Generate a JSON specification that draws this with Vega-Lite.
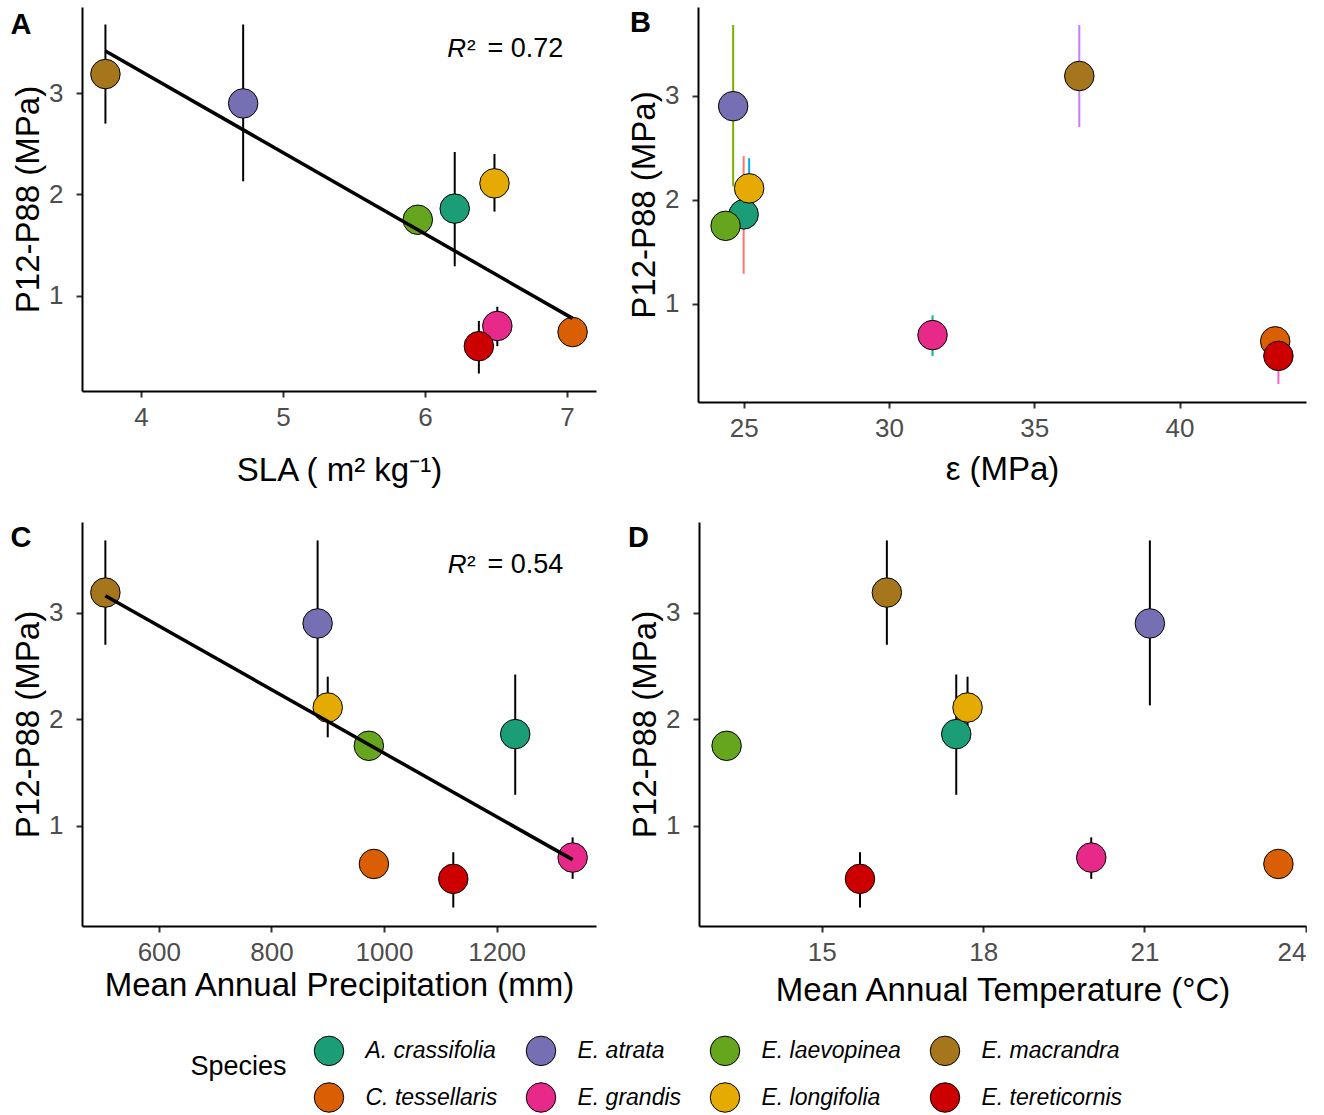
{
  "$schema": "https://vega.github.io/schema/vega-lite/v6.json",
  "background": "white",
  "padding": {"left": 10, "top": 7, "right": 0, "bottom": 0},
  "data": {"values": [
    {"Species": "A. crassifolia", "sla": 6.21, "eps": 25.00, "map": 1233, "mat": 17.50, "y": 1.86, "lo": 1.29, "hi": 2.42},
    {"Species": "C. tessellaris", "sla": 7.04, "eps": 43.29, "map": 982, "mat": 23.49, "y": 0.64, "lo": null, "hi": null},
    {"Species": "E. atrata", "sla": 4.72, "eps": 24.64, "map": 882, "mat": 21.10, "y": 2.90, "lo": 2.13, "hi": 3.68},
    {"Species": "E. grandis", "sla": 6.51, "eps": 31.50, "map": 1335, "mat": 20.01, "y": 0.70, "lo": 0.50, "hi": 0.89},
    {"Species": "E. laevopinea", "sla": 5.95, "eps": 24.38, "map": 973, "mat": 13.23, "y": 1.75, "lo": null, "hi": null},
    {"Species": "E. longifolia", "sla": 6.49, "eps": 25.19, "map": 900, "mat": 17.71, "y": 2.11, "lo": 1.83, "hi": 2.40},
    {"Species": "E. macrandra", "sla": 3.75, "eps": 36.55, "map": 505, "mat": 16.21, "y": 3.19, "lo": 2.70, "hi": 3.68},
    {"Species": "E. tereticornis", "sla": 6.38, "eps": 43.40, "map": 1123, "mat": 15.71, "y": 0.50, "lo": 0.23, "hi": 0.75}
  ]},
  "spacing": 35,
  "vconcat": [
    {
      "spacing": 32,
      "hconcat": [
        {
          "width": 514, "height": 384,
          "layer": [
            {"transform": [{"filter": "datum.lo != null"}],
             "mark": {"type": "rule", "strokeWidth": 2, "color": "black"},
             "encoding": {
               "x": {"field": "sla", "type": "quantitative", "scale": {"domain": [3.585, 7.205], "nice": false, "zero": false}, "axis": {"values": [4, 5, 6, 7], "format": "d", "title": "SLA ( m² kg⁻¹)", "titlePadding": 24}},
               "y": {"field": "lo", "type": "quantitative", "scale": {"domain": [0.057, 3.853], "nice": false, "zero": false}, "axis": {"values": [1, 2, 3], "format": "d", "title": "P12-P88 (MPa)"}},
               "y2": {"field": "hi"}
             }},
            {"mark": {"type": "point", "shape": "circle", "filled": true, "size": 870, "stroke": "black", "strokeWidth": 1, "opacity": 1},
             "encoding": {
               "x": {"field": "sla", "type": "quantitative"},
               "y": {"field": "y", "type": "quantitative"},
               "fill": {"field": "Species", "type": "nominal", "scale": {"domain": ["A. crassifolia", "E. atrata", "E. laevopinea", "E. macrandra", "C. tessellaris", "E. grandis", "E. longifolia", "E. tereticornis"], "range": ["#1B9E77", "#7570B3", "#66A61E", "#A6761D", "#D95F02", "#E7298A", "#E6AB02", "#CC0000"]}}
             }},
            {"transform": [{"regression": "y", "on": "sla"}],
             "mark": {"type": "line", "color": "black", "strokeWidth": 3.5},
             "encoding": {"x": {"field": "sla", "type": "quantitative"}, "y": {"field": "y", "type": "quantitative"}}},
            {"data": {"values": [{}]}, "mark": {"type": "text", "text": "R", "fontStyle": "italic", "align": "right", "baseline": "alphabetic", "fontSize": 26, "color": "black"},
             "encoding": {"x": {"datum": 6.29}, "y": {"datum": 3.359}}},
            {"data": {"values": [{}]}, "mark": {"type": "text", "text": "²", "align": "left", "baseline": "alphabetic", "fontSize": 26, "color": "black"},
             "encoding": {"x": {"datum": 6.296}, "y": {"datum": 3.359}}},
            {"data": {"values": [{}]}, "mark": {"type": "text", "text": "= 0.72", "align": "left", "baseline": "alphabetic", "fontSize": 27, "color": "black"},
             "encoding": {"x": {"datum": 6.441}, "y": {"datum": 3.359}}},
            {"data": {"values": [{}]}, "mark": {"type": "text", "text": "A", "align": "left", "baseline": "alphabetic", "fontSize": 29, "fontWeight": "bold", "color": "black"},
             "encoding": {"x": {"datum": 3.081}, "y": {"datum": 3.586}}}
          ]
        },
        {
          "width": 608, "height": 395,
          "layer": [
            {"transform": [{"filter": "datum.lo != null"}],
             "mark": {"type": "rule", "strokeWidth": 2},
             "encoding": {
               "x": {"field": "eps", "type": "quantitative", "scale": {"domain": [23.43, 44.35], "nice": false, "zero": false}, "axis": {"values": [25, 30, 35, 40], "format": "d", "title": "ε (MPa)", "titlePadding": 12}},
               "y": {"field": "lo", "type": "quantitative", "scale": {"domain": [0.057, 3.853], "nice": false, "zero": false}, "axis": {"values": [1, 2, 3], "format": "d", "title": "P12-P88 (MPa)"}},
               "y2": {"field": "hi"},
               "stroke": {"field": "Species", "type": "nominal", "legend": null, "scale": {"domain": ["A. crassifolia", "C. tessellaris", "E. atrata", "E. grandis", "E. laevopinea", "E. longifolia", "E. macrandra", "E. tereticornis"], "range": ["#F8766D", "#CD9600", "#7CAE00", "#00BE67", "#00BFC4", "#00A9FF", "#C77CFF", "#FF61CC"]}}
             }},
            {"mark": {"type": "point", "shape": "circle", "filled": true, "size": 870, "stroke": "black", "strokeWidth": 1, "opacity": 1},
             "encoding": {
               "x": {"field": "eps", "type": "quantitative"},
               "y": {"field": "y", "type": "quantitative"},
               "fill": {"field": "Species", "type": "nominal"}
             }},
            {"data": {"values": [{}]}, "mark": {"type": "text", "text": "B", "align": "left", "baseline": "alphabetic", "fontSize": 29, "fontWeight": "bold", "color": "black"},
             "encoding": {"x": {"datum": 21.09}, "y": {"datum": 3.61}}}
          ]
        }
      ]
    },
    {
      "spacing": 32,
      "hconcat": [
        {
          "width": 514, "height": 404,
          "layer": [
            {"transform": [{"filter": "datum.lo != null"}],
             "mark": {"type": "rule", "strokeWidth": 2, "color": "black"},
             "encoding": {
               "x": {"field": "map", "type": "quantitative", "scale": {"domain": [463.5, 1376.5], "nice": false, "zero": false}, "axis": {"values": [600, 800, 1000, 1200], "format": "d", "title": "Mean Annual Precipitation (mm)", "titlePadding": 4}},
               "y": {"field": "lo", "type": "quantitative", "scale": {"domain": [0.057, 3.853], "nice": false, "zero": false}, "axis": {"values": [1, 2, 3], "format": "d", "title": "P12-P88 (MPa)"}},
               "y2": {"field": "hi"}
             }},
            {"mark": {"type": "point", "shape": "circle", "filled": true, "size": 870, "stroke": "black", "strokeWidth": 1, "opacity": 1},
             "encoding": {
               "x": {"field": "map", "type": "quantitative"},
               "y": {"field": "y", "type": "quantitative"},
               "fill": {"field": "Species", "type": "nominal"}
             }},
            {"transform": [{"regression": "y", "on": "map"}],
             "mark": {"type": "line", "color": "black", "strokeWidth": 3.5},
             "encoding": {"x": {"field": "map", "type": "quantitative"}, "y": {"field": "y", "type": "quantitative"}}},
            {"data": {"values": [{}]}, "mark": {"type": "text", "text": "R", "fontStyle": "italic", "align": "right", "baseline": "alphabetic", "fontSize": 26, "color": "black"},
             "encoding": {"x": {"datum": 1146.5}, "y": {"datum": 3.37}}},
            {"data": {"values": [{}]}, "mark": {"type": "text", "text": "²", "align": "left", "baseline": "alphabetic", "fontSize": 26, "color": "black"},
             "encoding": {"x": {"datum": 1147.4}, "y": {"datum": 3.37}}},
            {"data": {"values": [{}]}, "mark": {"type": "text", "text": "= 0.54", "align": "left", "baseline": "alphabetic", "fontSize": 27, "color": "black"},
             "encoding": {"x": {"datum": 1183.8}, "y": {"datum": 3.37}}},
            {"data": {"values": [{}]}, "mark": {"type": "text", "text": "C", "align": "left", "baseline": "alphabetic", "fontSize": 29, "fontWeight": "bold", "color": "black"},
             "encoding": {"x": {"datum": 336.5}, "y": {"datum": 3.617}}}
          ]
        },
        {
          "width": 607, "height": 404,
          "layer": [
            {"transform": [{"filter": "datum.lo != null"}],
             "mark": {"type": "rule", "strokeWidth": 2, "color": "black"},
             "encoding": {
               "x": {"field": "mat", "type": "quantitative", "scale": {"domain": [12.717, 24.003], "nice": false, "zero": false}, "axis": {"values": [15, 18, 21, 24], "format": "d", "title": "Mean Annual Temperature (°C)", "titlePadding": 9}},
               "y": {"field": "lo", "type": "quantitative", "scale": {"domain": [0.057, 3.853], "nice": false, "zero": false}, "axis": {"values": [1, 2, 3], "format": "d", "title": "P12-P88 (MPa)"}},
               "y2": {"field": "hi"}
             }},
            {"mark": {"type": "point", "shape": "circle", "filled": true, "size": 870, "stroke": "black", "strokeWidth": 1, "opacity": 1},
             "encoding": {
               "x": {"field": "mat", "type": "quantitative"},
               "y": {"field": "y", "type": "quantitative"},
               "fill": {"field": "Species", "type": "nominal"}
             }},
            {"data": {"values": [{}]}, "mark": {"type": "text", "text": "D", "align": "left", "baseline": "alphabetic", "fontSize": 29, "fontWeight": "bold", "color": "black"},
             "encoding": {"x": {"datum": 11.397}, "y": {"datum": 3.617}}}
          ]
        }
      ]
    }
  ],
  "config": {
    "font": "Liberation Sans",
    "view": {"stroke": null},
    "axis": {"grid": false, "domainColor": "black", "domainWidth": 2, "tickColor": "#333333", "tickWidth": 2, "tickSize": 6, "labelColor": "#4D4D4D", "labelFontSize": 26, "labelFont": "Liberation Sans", "titleFont": "Liberation Sans", "titleFontSize": 33, "titleFontWeight": "normal", "titleColor": "black"},
    "axisX": {"labelPadding": 7},
    "axisY": {"labelPadding": 13, "titlePadding": 3},
    "legend": {"orient": "none", "legendX": 108.5, "legendY": 1028, "columns": 4, "direction": "horizontal", "titleOrient": "left", "titleAnchor": "middle", "titleBaseline": "alphabetic", "titleFont": "Liberation Sans", "titleFontSize": 27, "titleFontWeight": "normal", "titleColor": "black", "titlePadding": 26, "labelFont": "Liberation Sans", "labelFontSize": 23, "labelFontStyle": "italic", "labelColor": "black", "labelOffset": 21, "symbolType": "circle", "symbolSize": 870, "symbolStrokeColor": "black", "symbolStrokeWidth": 1, "symbolOpacity": 1, "columnPadding": 26, "rowPadding": 12, "padding": 0}
  }
}
